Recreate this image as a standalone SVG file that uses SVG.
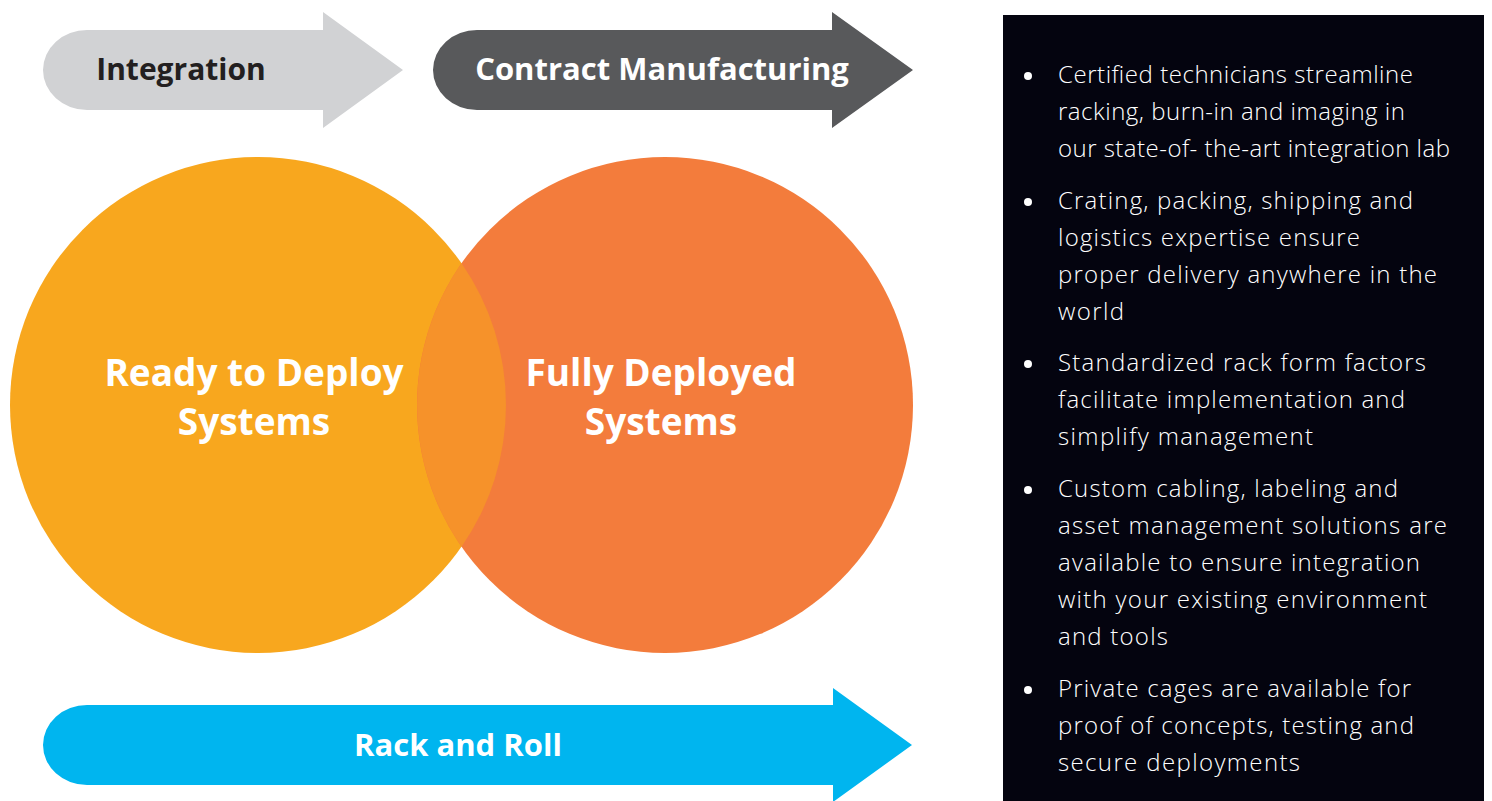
<svg xmlns="http://www.w3.org/2000/svg" width="1492" height="801" viewBox="0 0 1492 801">
<style>
.title{font-family:"Open Sans","Liberation Sans",sans-serif;font-weight:700;}
.body{font-family:"Open Sans","Liberation Sans",sans-serif;font-size:24px;font-weight:300;fill:#ffffff;}
.bul{fill:#ffffff;}
</style>
<rect width="1492" height="801" fill="#ffffff"/>
<g id="integration">
<path d="M87 30 L323 30 L323 12 L403 70 L323 128 L323 110 L87 110 A44 40 0 0 1 87 30 Z" fill="#D1D2D4"/>
<text class="title" x="181" y="80" font-size="30" fill="#231F20" text-anchor="middle">Integration</text>
</g>
<g id="contract-manufacturing">
<path d="M477 30 L832 30 L832 12 L913 70 L832 128 L832 110 L477 110 A44 40 0 0 1 477 30 Z" fill="#58595B"/>
<text class="title" x="662" y="80" font-size="31" fill="#ffffff" text-anchor="middle">Contract Manufacturing</text>
</g>
<g id="ready-to-deploy">
<circle cx="258" cy="405" r="248" fill="#F8A71E"/>
</g>
<g id="fully-deployed">
<circle cx="665" cy="405" r="248" fill="#F37C3C"/>
</g>
<path id="overlap" d="M461.5 263.3 A248 248 0 0 1 461.5 546.7 A248 248 0 0 1 461.5 263.3 Z" fill="#F6922A"/>
<g id="circle-labels">
<text class="title" font-size="37" fill="#ffffff" text-anchor="middle"><tspan x="254" y="386">Ready to Deploy</tspan><tspan x="254" y="435">Systems</tspan></text>
<text class="title" font-size="37" fill="#ffffff" text-anchor="middle"><tspan x="661" y="386">Fully Deployed</tspan><tspan x="661" y="435">Systems</tspan></text>
</g>
<g id="rack-and-roll">
<path d="M87 705 L833 705 L833 688 L912 745 L833 802 L833 785 L87 785 A44 40 0 0 1 87 705 Z" fill="#00B5EF"/>
<text class="title" x="458" y="756" font-size="31" fill="#ffffff" text-anchor="middle">Rack and Roll</text>
</g>
<g id="info-panel">
<rect x="1003" y="15" width="481" height="786" fill="#04040F"/>
<circle class="bul" cx="1028" cy="76" r="4"/>
<circle class="bul" cx="1028" cy="202" r="4"/>
<circle class="bul" cx="1028" cy="364" r="4"/>
<circle class="bul" cx="1028" cy="490" r="4"/>
<circle class="bul" cx="1028" cy="690" r="4"/>
<text class="body" x="1058" y="83" textLength="355" lengthAdjust="spacing">Certified technicians streamline</text>
<text class="body" x="1058" y="120" textLength="347" lengthAdjust="spacing">racking, burn-in and imaging in</text>
<text class="body" x="1058" y="157" textLength="392" lengthAdjust="spacing">our state-of- the-art integration lab</text>
<text class="body" x="1058" y="209" textLength="355" lengthAdjust="spacing">Crating, packing, shipping and</text>
<text class="body" x="1058" y="246" textLength="302" lengthAdjust="spacing">logistics expertise ensure</text>
<text class="body" x="1058" y="283" textLength="379" lengthAdjust="spacing">proper delivery anywhere in the</text>
<text class="body" x="1058" y="320" textLength="66" lengthAdjust="spacing">world</text>
<text class="body" x="1058" y="371" textLength="368" lengthAdjust="spacing">Standardized rack form factors</text>
<text class="body" x="1058" y="408" textLength="347" lengthAdjust="spacing">facilitate implementation and</text>
<text class="body" x="1058" y="445" textLength="255" lengthAdjust="spacing">simplify management</text>
<text class="body" x="1058" y="497" textLength="340" lengthAdjust="spacing">Custom cabling, labeling and</text>
<text class="body" x="1058" y="534" textLength="389" lengthAdjust="spacing">asset management solutions are</text>
<text class="body" x="1058" y="571" textLength="362" lengthAdjust="spacing">available to ensure integration</text>
<text class="body" x="1058" y="608" textLength="369" lengthAdjust="spacing">with your existing environment</text>
<text class="body" x="1058" y="645" textLength="110" lengthAdjust="spacing">and tools</text>
<text class="body" x="1058" y="697" textLength="353" lengthAdjust="spacing">Private cages are available for</text>
<text class="body" x="1058" y="734" textLength="356" lengthAdjust="spacing">proof of concepts, testing and</text>
<text class="body" x="1058" y="771" textLength="242" lengthAdjust="spacing">secure deployments</text>
</g>
</svg>
